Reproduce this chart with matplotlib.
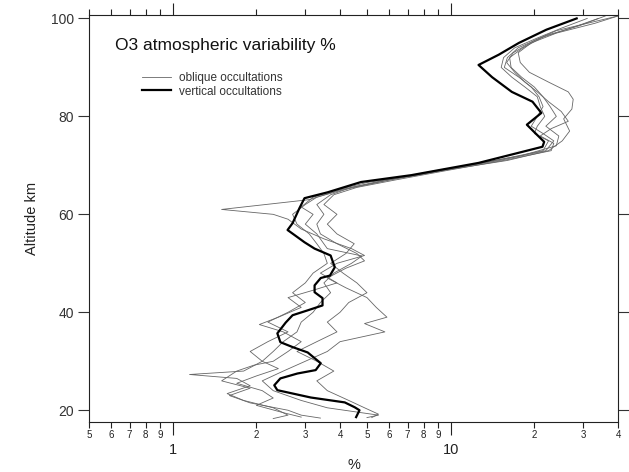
import matplotlib
matplotlib.use('Agg')
import matplotlib.pyplot as plt
import matplotlib.ticker as mticker

plt.rcParams['font.family'] = ['Liberation Sans', 'DejaVu Sans']

# vertical occultations (thick)
alt_vert = [100, 97.7, 95, 92.6, 90.5, 88, 85, 83, 80.7, 78.3, 76.9, 74.8, 73.8,
            70.5, 68, 66.6, 64.5, 63.3, 61.3, 58.2, 56.8, 55.8, 54.3, 53, 51.6,
            49.2, 47.5, 47, 45.5, 44.1, 42.9, 41.4, 40.4, 39.4, 37.9, 35.7, 33.9,
            32.9, 31.8, 29.6, 28.2, 27.5, 26.5, 25.1, 24.1, 22.6, 21.6, 20.6, 20,
            18.6]
pct_vert = [28.4, 22.1, 17.6, 14.9, 12.6, 14.1, 16.6, 19.7, 21.2, 18.8, 19.9, 21.7,
            21.4, 12.6, 7.22, 4.76, 3.61, 2.98, 2.86, 2.70, 2.59, 2.74, 2.98, 3.24,
            3.7, 3.83, 3.68, 3.41, 3.24, 3.24, 3.46, 3.46, 3.06, 2.70, 2.55, 2.38,
            2.44, 2.70, 3.06, 3.41, 3.27, 2.81, 2.44, 2.32, 2.38, 3.14, 4.16, 4.52,
            4.7, 4.57]

# oblique occultations (thin)
alt_obl1 = [100.5, 99, 97, 95, 93, 91, 89, 87, 85, 83.5, 81.5, 79.5, 77, 75, 73,
            71, 69, 67, 65.5, 64, 62, 60, 58, 56, 54, 52, 50.5, 49, 47, 45, 43,
            41, 39, 37.7, 36, 34, 32, 30, 28, 26, 24, 22, 20.5, 19, 18.5]
pct_obl1 = [40, 33, 24, 19.5, 17.5, 17.8, 19.2, 22.5, 26.5, 27.6, 27.3, 25.5, 26.8,
            25.2, 22.5, 16, 9.5, 6.0, 4.4, 3.7, 3.3, 3.5, 3.3, 3.4, 3.9, 4.6, 4.9,
            4.2, 3.6, 4.2, 5.0, 5.4, 5.9, 4.9, 5.8, 4.0, 3.6, 3.0, 2.5, 2.1, 2.3,
            2.9, 3.6, 5.5, 5.0]

alt_obl2 = [100.5, 98.5, 96.5, 94, 92, 90, 88, 86, 84, 82, 80, 78, 76, 74, 72, 70,
            68, 66.5, 65, 63.5, 61.5, 60, 58, 56, 53, 51.5, 50, 48, 46, 44, 42,
            40, 38, 36, 34, 32, 30, 28, 27.3, 26.5, 25, 23.4, 22, 20.5, 19, 18.3]
pct_obl2 = [36, 29, 22, 18.2, 16.3, 16.5, 18.0, 20.0, 21.5, 22.8, 24.0, 22.0, 24.5,
            24.0, 18.0, 11.5, 7.5, 5.0, 3.9, 3.2, 2.9, 3.2, 3.0, 3.3, 3.6, 4.8, 4.4,
            3.8, 3.5, 3.7, 3.4, 3.2, 2.9, 2.8, 2.5, 2.3, 2.1, 1.8, 1.15, 1.7, 1.9,
            1.57, 1.8, 2.3, 2.6, 2.3]

alt_obl3 = [100, 98, 96, 94, 92, 90, 88, 86, 84, 82, 80, 78, 76.5, 75, 73, 71, 69,
            67, 65, 63, 61, 60, 59, 57, 55, 53, 51.6, 50, 48, 46, 44.5, 43, 41,
            39, 37.5, 36, 34, 32, 30, 29.2, 28, 26, 24.5, 23, 21.5, 20, 19, 18.4]
pct_obl3 = [31, 25, 20.5, 17, 15.5, 15.2, 16.6, 18.5, 20.5, 21.0, 21.8, 20.5, 20.0,
            22.5, 21.5, 14.5, 9.0, 5.8, 4.0, 3.1, 1.5, 2.3, 2.6, 2.9, 3.5, 4.4, 4.9,
            3.9, 3.4, 3.9, 3.2, 2.6, 2.9, 2.4, 2.05, 2.5, 2.9, 2.6, 2.3, 1.96, 1.7,
            1.5, 1.9, 1.6, 1.9, 2.6, 2.9, 3.4]

alt_obl4 = [100.5, 99, 97.5, 95.5, 93, 91, 89, 87, 85, 83, 81, 79, 77.5, 76, 74.5,
            73, 71, 69, 67, 65.5, 64, 62, 60, 58, 56, 54, 52, 50, 48, 46, 44, 42,
            40, 38, 36, 34, 32, 30, 28, 26, 24, 22, 20.5, 19.2, 18.5]
pct_obl4 = [40, 31, 24, 20, 16.8, 15.9, 17.0, 18.5, 20.5, 22.5, 25, 26.5, 23, 21,
            23.5, 23, 15.5, 9.8, 6.3, 4.6, 3.8, 3.5, 3.9, 3.6, 3.9, 4.5, 4.2, 3.7,
            4.1, 4.6, 5.0, 4.3, 4.0, 3.6, 3.9, 3.3, 2.8, 3.3, 3.8, 3.3, 3.6, 4.3,
            4.9, 5.5, 5.2]

alt_obl5 = [100, 98, 96, 94, 92, 90, 88, 86, 84, 82, 80, 78, 76.5, 75, 73, 71, 69,
            67, 65, 63.5, 62, 60, 58, 56, 54, 52, 50, 48, 46, 44, 42, 40, 38, 36,
            34, 32, 30, 28.5, 27, 25.5, 24, 22.5, 21, 19.5, 18.6]
pct_obl5 = [34, 27, 21, 17.5, 16, 15.6, 17.6, 19.5, 20.8, 21.5, 20.5, 19.5, 21.5,
            23.5, 22, 15, 9.3, 6.0, 4.1, 3.3, 3.0, 2.7, 2.8, 3.1, 3.3, 3.5, 3.6,
            3.2, 3.0, 2.7, 3.0, 2.6, 2.2, 2.6, 2.2, 1.9, 2.1, 2.4, 2.0, 1.7, 2.1,
            2.3, 2.0, 2.5, 2.9]

oblique = [(alt_obl1, pct_obl1), (alt_obl2, pct_obl2), (alt_obl3, pct_obl3),
           (alt_obl4, pct_obl4), (alt_obl5, pct_obl5)]

major_ticks = [1, 10]
minor_ticks = [0.5, 0.6, 0.7, 0.8, 0.9, 2, 3, 4, 5, 6, 7, 8, 9, 20, 30, 40]
minor_labels = ['5', '6', '7', '8', '9', '2', '3', '4', '5', '6', '7', '8', '9',
                '2', '3', '4']

fig = plt.figure(figsize=(6.29, 4.72), dpi=100)
ax = fig.add_axes([89 / 629, 50 / 472, 529 / 629, 407 / 472])

for i, (a, p) in enumerate(oblique):
    ax.plot(p, a, color='#666666', lw=0.6,
            label='oblique occultations' if i == 0 else None)
ax.plot(pct_vert, alt_vert, color='black', lw=1.6, label='vertical occultations')

ax.set_xscale('log')
ax.set_xlim(0.5, 40)
ax.set_ylim(17.6, 100.7)

ax.xaxis.set_major_locator(mticker.FixedLocator(major_ticks))
ax.xaxis.set_major_formatter(mticker.FixedFormatter([str(t) for t in major_ticks]))
ax.xaxis.set_minor_locator(mticker.FixedLocator(minor_ticks))
ax.xaxis.set_minor_formatter(mticker.FixedFormatter(minor_labels))
ax.set_yticks([20, 40, 60, 80, 100])

ax.tick_params(axis='x', which='major', direction='out', length=9, width=0.8,
               pad=6, labelsize=10.5, top=True, colors='#222222')
ax.tick_params(axis='x', which='minor', direction='out', length=4, width=0.8,
               pad=2, labelsize=7, top=True, colors='#222222')
ax.tick_params(axis='y', direction='out', length=8, width=0.8, pad=3,
               labelsize=10, right=True, colors='#333333')

for s in ax.spines.values():
    s.set_linewidth(0.8)
    s.set_color('#222222')

ax.set_ylabel('Altitude km', fontsize=10.5, labelpad=8, color='#222222')
ax.set_xlabel('%', fontsize=10.5, labelpad=1, color='#222222')

ax.text(0.05, 0.925, 'O3 atmospheric variability %', transform=ax.transAxes,
        fontsize=12.5, color='#111111', va='center')
ax.legend(loc='upper left', bbox_to_anchor=(0.08, 0.885), frameon=False,
          fontsize=8.5, handlelength=2.5, labelspacing=0.1, handletextpad=0.6,
          labelcolor='#333333')

fig.savefig('out.png', dpi=100)
